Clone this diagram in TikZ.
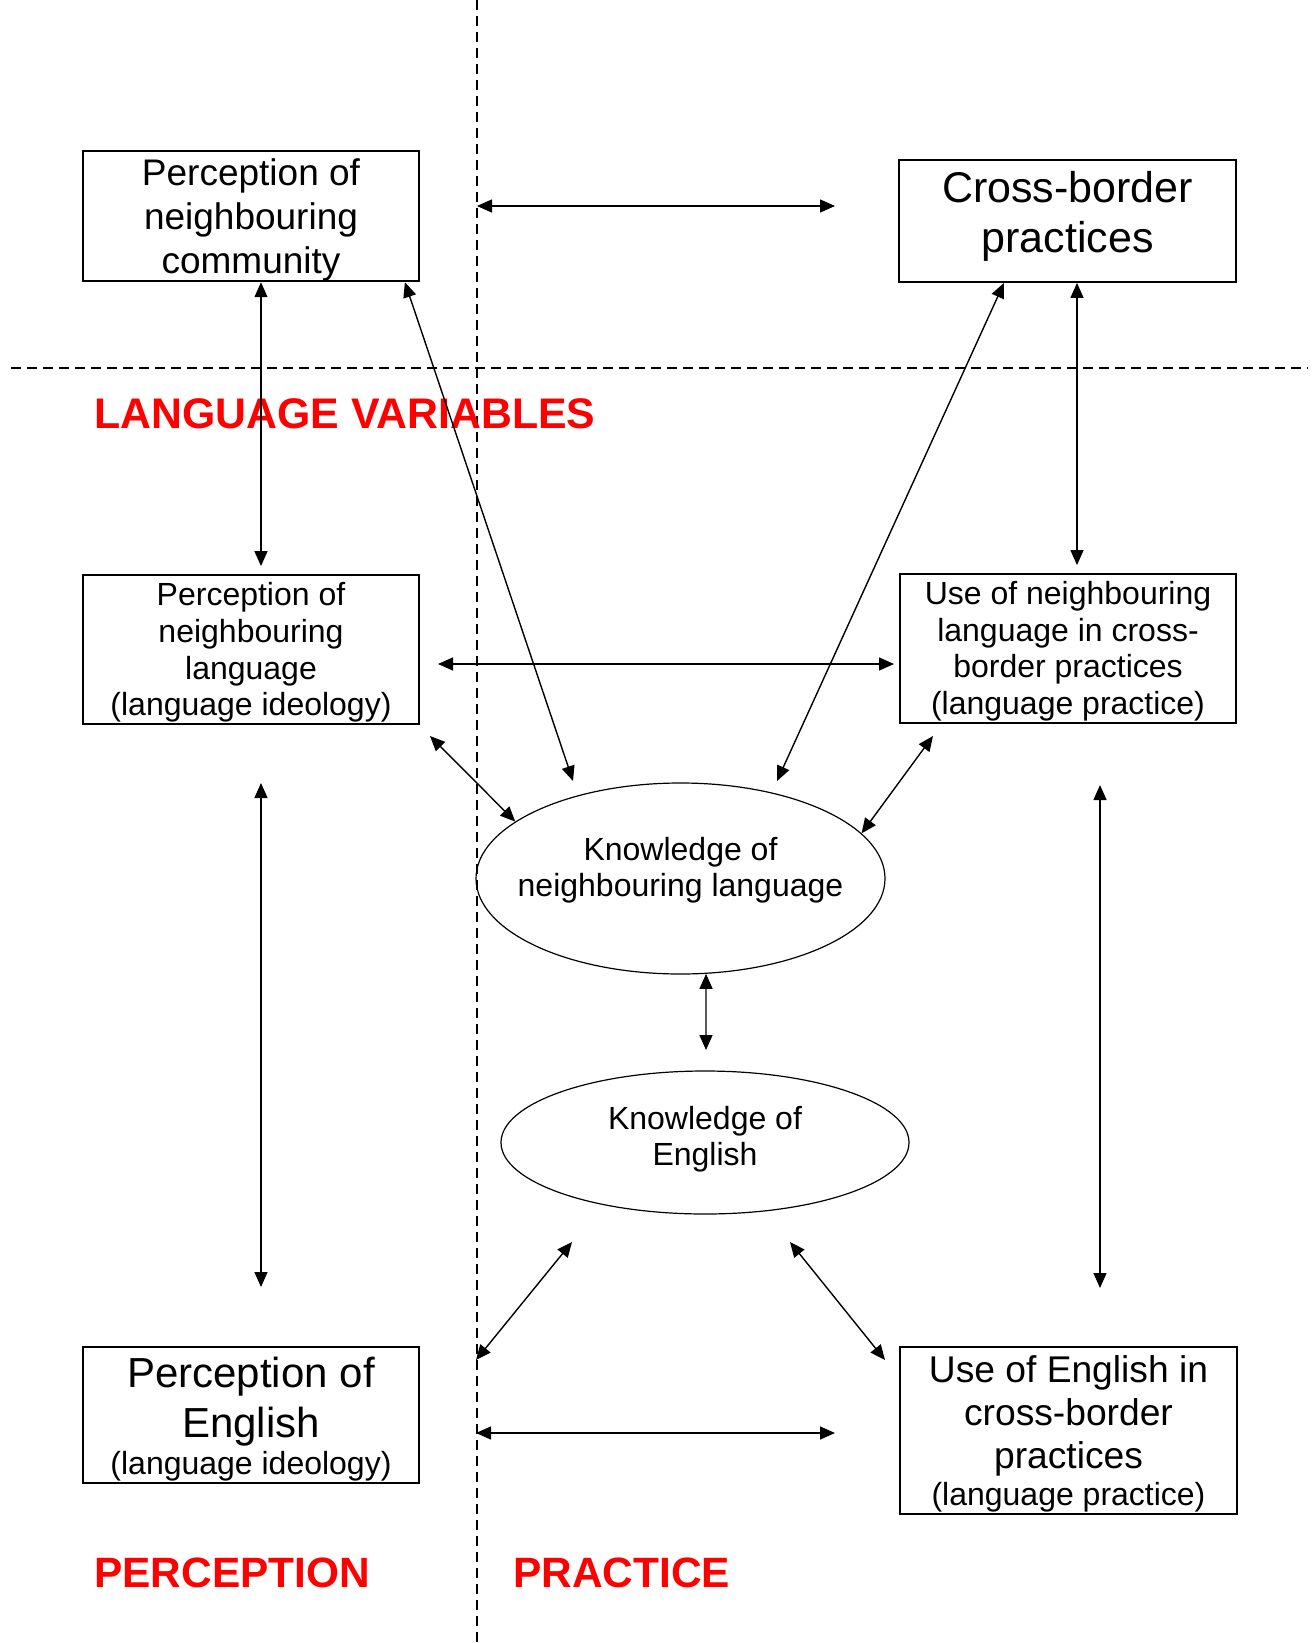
\documentclass[tikz,border=0pt]{standalone}
\usepackage{fontspec}
\setmainfont{Liberation Sans}
\usetikzlibrary{arrows.meta,shapes.geometric}
\tikzset{
  box/.style={draw,line width=0.9pt,rectangle,inner sep=0pt,align=center,minimum width=168pt},
  oval/.style={draw,line width=0.6pt,ellipse,inner xsep=-12pt,inner ysep=0pt,align=center,font=\fontsize{16}{18}\selectfont},
  link/.style={line width=0.7pt,{Triangle[length=7.5pt,width=6.5pt]}-{Triangle[length=7.5pt,width=6.5pt]}},
  sep/.style={line width=0.8pt,dash pattern=on 5pt off 3pt},
  head/.style={text=red,font=\bfseries\fontsize{21.2}{25}\selectfont,anchor=base west,inner sep=0pt}
}
\begin{document}
\begin{tikzpicture}[x=0.5pt,y=-0.5pt]
\useasboundingbox (0,0) rectangle (1315,1643);
\draw[sep] (477,0) -- (477,1643);
\draw[sep] (11,368) -- (1308,368);
\node[head,font=\bfseries\fontsize{21.4}{25}\selectfont] (L1) at (94,428) {LANGUAGE VARIABLES};
\node[head] (L2) at (94,1587) {PERCEPTION};
\node[head] (L3) at (513,1587) {PRACTICE};
\node[box,minimum height=65pt,text height=61.5pt,font=\fontsize{18.5}{22}\selectfont] (P1) at (251,216) {Perception of\\neighbouring\\community};
\node[box,minimum width=168.5pt,minimum height=61pt,text depth=9.5pt,font=\fontsize{21.5}{25}\selectfont] (C1) at (1067.5,221) {Cross-border\\practices};
\node[box,minimum height=74.5pt,text height=69.6pt,font=\fontsize{16}{18.3}\selectfont] (P2) at (251,649.5) {Perception of\\neighbouring\\language\\(language ideology)};
\node[box,minimum height=74.5pt,text height=69.2pt,font=\fontsize{16}{18.3}\selectfont] (U1) at (1068,648.5) {Use of neighbouring\\language in cross-\\border practices\\(language practice)};
\node[box,minimum height=68pt,text height=62.4pt,font=\fontsize{21}{25}\selectfont] (P3) at (251,1415) {Perception of\\English\\[-6.5pt]{\fontsize{16}{18.5}\selectfont(language ideology)}};
\node[box,minimum width=168.5pt,minimum height=83.5pt,text height=78.7pt,font=\fontsize{18.6}{21.5}\selectfont] (U2) at (1068.5,1430.5) {Use of English in\\cross-border\\practices\\[-3pt]{\fontsize{16}{18.5}\selectfont(language practice)}};
\node[oval,minimum width=204.5pt,minimum height=95.5pt,text depth=11.8pt] (K1) at (680.5,878.5) {Knowledge of\\neighbouring language};
\node[oval,minimum width=204pt,minimum height=71.5pt,text depth=7pt] (K2) at (705,1142.5) {Knowledge of\\English};
\foreach \n/\x/\y in {t1/477/206,t2/835/206,c1/573/781,c2/777/781,m1/438/664,m2/894/664,m3/430/736,m4/933/736,m5/706/1050,m6/261/783,m7/261/1287,m8/1100/785,m9/1100/1288,b1/572/1242,b2/476/1360,b3/790/1242,b4/885/1360,b5/476/1433,b6/835/1433} {
  \coordinate (\n) at (\x,\y);
}
\foreach \a/\b in {t1/t2,m1/m2,m3/K1.161,m4/K1.14,K1.-75/m5,m6/m7,m8/m9,b1/b2,b3/b4,b5/b6} {
  \draw[link] (\a) -- (\b);
}
\draw[link] ([xshift=5pt]P1.south) -- ([xshift=5pt,yshift=4pt]P2.north);
\draw[link] ([xshift=-7.5pt]P1.south east) -- (c1);
\draw[link] ([xshift=-31.75pt]C1.south) -- (c2);
\draw[link] ([xshift=4.75pt]C1.south) -- ([xshift=4.5pt,yshift=4pt]U1.north);
\end{tikzpicture}
\end{document}
